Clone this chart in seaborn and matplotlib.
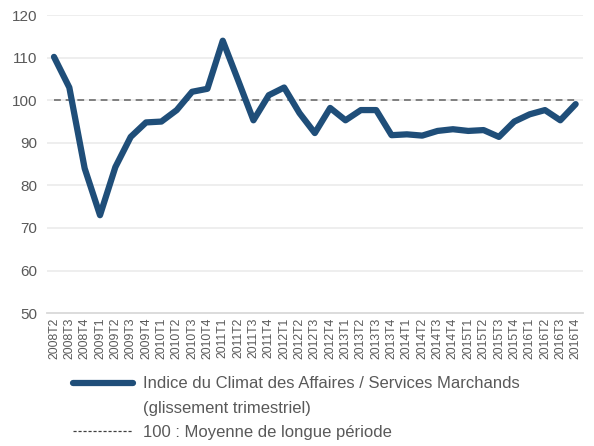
import numpy as np
import pandas as pd
import matplotlib
matplotlib.use("Agg")
import matplotlib.pyplot as plt
from matplotlib.lines import Line2D
import seaborn as sns

# -----------------------------
# DATA
# -----------------------------
quarters = ["2008T2", "2008T3", "2008T4"] + [
    f"{y}T{q}" for y in range(2009, 2017) for q in range(1, 5)
]
indice = [110.2, 103.0, 84.0, 73.0, 84.3, 91.4, 94.8, 95.0, 97.7, 102.0,
          102.7, 114.0, 104.7, 95.3, 101.2, 103.0, 97.0, 92.3, 98.2, 95.3,
          97.7, 97.7, 91.8, 92.0, 91.7, 92.8, 93.2, 92.8, 93.0, 91.4,
          95.0, 96.7, 97.7, 95.3, 99.1]
moyenne = [100] * len(quarters)

df = pd.DataFrame({"trimestre": quarters, "indice": indice, "moyenne": moyenne})
df["pos"] = np.arange(len(df))

blue = "#1f4e79"
grey_txt = "#595959"

# -----------------------------
# FIGURE
# -----------------------------
sns.set_style("white")
plt.rcParams["font.family"] = ["Liberation Sans", "DejaVu Sans"]

fig = plt.figure(figsize=(5.94, 4.46), dpi=100)
ax = fig.add_axes([0.079, 0.298, 0.902, 0.668])

for v in range(60, 121, 10):
    ax.axhline(v, color="#ededed", lw=1.3, zorder=0)

sns.lineplot(data=df, x="pos", y="moyenne", ax=ax, color="#7f7f7f",
             lw=1.4, linestyle=(0, (3.5, 2.5)), zorder=2)
sns.lineplot(data=df, x="pos", y="indice", ax=ax, color=blue, lw=4.5,
             solid_joinstyle="round", solid_capstyle="round", zorder=3)

ax.set_xlim(-0.46, len(df) - 0.54)
ax.set_ylim(50, 120)
ax.set_yticks(range(50, 121, 10))
ax.set_xticks(df["pos"])
ax.set_xticklabels(df["trimestre"], rotation=90, fontsize=8.8, color=grey_txt)
ax.tick_params(axis="y", labelsize=11, labelcolor=grey_txt, length=0, pad=7)
ax.tick_params(axis="x", length=0, pad=3)
ax.set_xlabel("")
ax.set_ylabel("")

for s in ["top", "right", "left"]:
    ax.spines[s].set_visible(False)
ax.spines["bottom"].set_color("#d9d9d9")
ax.spines["bottom"].set_linewidth(1.3)

# ===== Legend =====
handles = [
    Line2D([], [], color=blue, lw=4.5, solid_capstyle="round"),
    Line2D([], [], color="none"),
    Line2D([], [], color="#404040", lw=0.9, linestyle=(0, (2.5, 1.5))),
]
labels = [
    "Indice du Climat des Affaires / Services Marchands",
    "(glissement trimestriel)",
    "100 : Moyenne de longue période",
]
fig.legend(handles, labels, loc="upper left", bbox_to_anchor=(0.123, 0.156),
           frameon=False, fontsize=12, handlelength=3.6, handletextpad=0.6,
           labelspacing=0.55, borderaxespad=0, borderpad=0,
           labelcolor=grey_txt)

plt.savefig("out.png", dpi=100)
